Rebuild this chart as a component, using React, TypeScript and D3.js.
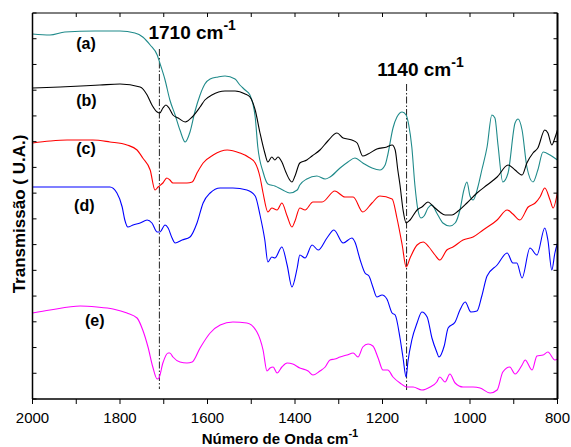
import React from "react";
import * as d3 from "d3";

// wavenumber (cm-1), transmission (a.u.)
const curveA: [number, number][] = [
  [2000, 365], [1960, 364], [1926, 367], [1857, 368], [1800, 368], [1766, 366], [1748, 362], [1731, 354],
  [1715, 344], [1709, 336], [1697, 319], [1686, 299], [1674, 284], [1663, 269], [1651, 257], [1640, 267],
  [1629, 287], [1617, 304], [1606, 315], [1594, 320], [1576, 322], [1560, 323], [1537, 320], [1526, 314],
  [1514, 309], [1503, 304], [1491, 282], [1485, 252], [1473, 227], [1462, 215], [1446, 213], [1428, 209],
  [1412, 206], [1395, 209], [1389, 214], [1373, 220], [1350, 223], [1331, 220], [1320, 222], [1297, 231],
  [1279, 237], [1263, 241], [1245, 236], [1224, 231], [1206, 229], [1194, 234], [1188, 244], [1176, 271],
  [1167, 282], [1155, 287], [1146, 284], [1140, 274], [1133, 252], [1126, 214], [1119, 189], [1112, 181],
  [1105, 183], [1096, 191], [1087, 194], [1076, 186], [1062, 176], [1046, 173], [1034, 176], [1023, 189],
  [1014, 209], [1007, 217], [1000, 203], [993, 199], [982, 212], [973, 229], [961, 252], [950, 284],
  [943, 281], [936, 254], [925, 217], [913, 226], [897, 276], [890, 280], [881, 269], [870, 232],
  [856, 217], [845, 229], [833, 247], [817, 244], [800, 239],
];

const curveB: [number, number][] = [
  [2000, 311], [1937, 312], [1846, 314], [1800, 315], [1754, 312], [1738, 304], [1727, 294], [1715, 287],
  [1709, 286], [1702, 291], [1695, 294], [1688, 291], [1679, 284], [1667, 281], [1651, 277], [1635, 282],
  [1617, 292], [1606, 299], [1590, 304], [1560, 308], [1537, 308], [1514, 305], [1503, 302], [1491, 289],
  [1480, 266], [1469, 246], [1462, 237], [1453, 242], [1446, 239], [1439, 242], [1430, 237], [1421, 227],
  [1412, 219], [1407, 217], [1400, 223], [1389, 236], [1373, 239], [1361, 243], [1343, 249], [1325, 258],
  [1304, 266], [1290, 261], [1270, 259], [1258, 256], [1245, 243], [1233, 245], [1213, 250], [1190, 252],
  [1178, 254], [1171, 249], [1165, 229], [1160, 214], [1153, 189], [1146, 176], [1137, 179], [1121, 189],
  [1110, 192], [1096, 197], [1085, 193], [1069, 187], [1057, 184], [1041, 184], [1027, 188], [1007, 196],
  [984, 206], [961, 214], [938, 222], [913, 234], [897, 229], [881, 224], [870, 236], [856, 246],
  [845, 251], [829, 269], [822, 266], [813, 254], [806, 261], [800, 269],
];

const curveC: [number, number][] = [
  [2000, 256], [1960, 258], [1921, 259], [1862, 259], [1823, 257], [1784, 254], [1761, 249], [1748, 241],
  [1731, 229], [1720, 209], [1713, 212], [1702, 216], [1693, 221], [1686, 219], [1679, 216], [1663, 216],
  [1647, 216], [1635, 217], [1624, 226], [1610, 236], [1587, 244], [1555, 249], [1526, 246], [1507, 242],
  [1491, 236], [1480, 222], [1473, 206], [1462, 187], [1453, 191], [1441, 189], [1430, 196], [1418, 183],
  [1407, 172], [1400, 178], [1389, 191], [1377, 189], [1359, 197], [1338, 197], [1309, 208], [1286, 202],
  [1267, 202], [1245, 187], [1224, 196], [1206, 203], [1178, 200], [1167, 181], [1155, 154], [1146, 132],
  [1137, 141], [1121, 154], [1107, 157], [1094, 152], [1080, 144], [1069, 139], [1053, 149], [1039, 152],
  [1016, 159], [993, 162], [970, 169], [938, 179], [915, 189], [902, 185], [886, 179], [867, 192],
  [851, 196], [840, 202], [829, 211], [817, 199], [810, 191], [800, 207],
];

const curveD: [number, number][] = [
  [2000, 212], [1921, 212], [1823, 212], [1807, 206], [1795, 192], [1789, 179], [1782, 172], [1770, 174],
  [1754, 176], [1738, 179], [1727, 176], [1715, 167], [1709, 167], [1697, 174], [1690, 171], [1681, 161],
  [1674, 156], [1658, 159], [1640, 162], [1624, 176], [1610, 196], [1594, 206], [1571, 211], [1542, 211],
  [1510, 209], [1491, 203], [1480, 184], [1469, 159], [1462, 137], [1453, 142], [1446, 141], [1430, 152],
  [1418, 134], [1407, 112], [1395, 131], [1389, 144], [1377, 141], [1361, 154], [1347, 149], [1327, 161],
  [1311, 169], [1290, 156], [1270, 161], [1263, 157], [1251, 139], [1240, 126], [1231, 123], [1222, 112],
  [1213, 102], [1201, 104], [1190, 100], [1178, 86], [1171, 84], [1160, 61], [1153, 41], [1146, 22],
  [1142, 37], [1133, 59], [1121, 76], [1110, 87], [1098, 82], [1087, 61], [1076, 47], [1071, 42],
  [1059, 53], [1050, 71], [1034, 77], [1023, 89], [1011, 97], [998, 87], [984, 88], [973, 103],
  [961, 123], [938, 134], [915, 146], [902, 136], [893, 136], [881, 121], [863, 151], [847, 144],
  [829, 171], [822, 159], [813, 129], [806, 146], [800, 156],
];

const curveE: [number, number][] = [
  [2000, 86], [1960, 89], [1891, 93], [1853, 92], [1816, 90], [1784, 86], [1761, 81], [1748, 69],
  [1736, 52], [1725, 32], [1715, 20], [1711, 21], [1702, 36], [1690, 46], [1686, 46], [1679, 42],
  [1663, 37], [1647, 36], [1635, 37], [1617, 51], [1594, 66], [1571, 74], [1542, 77], [1510, 76],
  [1487, 67], [1473, 49], [1464, 28], [1457, 31], [1450, 32], [1441, 26], [1430, 32], [1418, 36],
  [1405, 35], [1389, 31], [1370, 28], [1359, 24], [1343, 28], [1331, 32], [1320, 39], [1309, 40],
  [1297, 42], [1281, 44], [1267, 46], [1256, 42], [1245, 52], [1233, 55], [1222, 53], [1210, 41],
  [1199, 29], [1188, 29], [1176, 22], [1160, 16], [1144, 12], [1130, 12], [1110, 9], [1091, 12],
  [1076, 17], [1069, 22], [1057, 17], [1046, 25], [1034, 16], [1016, 12], [993, 12], [977, 11],
  [954, 6], [938, 9], [925, 27], [909, 32], [897, 25], [881, 34], [874, 39], [858, 29],
  [847, 43], [833, 44], [822, 47], [806, 39], [800, 40],
];

const seriesColors = ["#1f8a8a", "#000000", "#ff0000", "#0000ff", "#ff00ff"];
const seriesLabels = ["(a)", "(b)", "(c)", "(d)", "(e)"];
const labelPos: [number, number][] = [[1900, 350], [1900, 293], [1900, 245], [1905, 188], [1880, 73]];

const xTicksMajor = [2000, 1800, 1600, 1400, 1200, 1000, 800];
const xTicksAll = d3.range(2000, 799, -100);
const refLines: { w: number; top: number; bottom: number; text: string; textW: number; textV: number }[] = [
  { w: 1710, top: 350, bottom: 10, text: "1710 cm", textW: 1735, textV: 360 },
  { w: 1145, top: 315, bottom: 9, text: "1140 cm", textW: 1212, textV: 323 },
];

const W = 571;
const H = 447;
const left = 32.5;
const right = 557.5;
const top = 13;
const bottom = 399;

export default function App() {
  const x = d3.scaleLinear().domain([2000, 800]).range([left, right]);
  const y = d3.scaleLinear().domain([0, 386]).range([bottom, top]);
  const yTicks = d3.range(0, 16).map((i) => (i * 386) / 15);
  const line = d3
    .line<[number, number]>()
    .x((d) => x(d[0]))
    .y((d) => y(d[1]))
    .curve(d3.curveMonotoneX);
  const curves = [curveA, curveB, curveC, curveD, curveE];
  const font = "Arial, 'Liberation Sans', sans-serif";

  return (
    <svg
      width={W}
      height={H}
      style={{ position: "absolute", left: 0, top: 0, background: "#fff" }}
      fontFamily={font}
    >
      <rect x={0} y={0} width={W} height={H} fill="#fff" />
      {/* reference lines */}
      {refLines.map((r, i) => (
        <g key={i}>
          <line
            x1={x(r.w)}
            x2={x(r.w)}
            y1={y(r.top)}
            y2={y(r.bottom)}
            stroke="#222"
            strokeWidth={1}
            strokeDasharray="7,2,1.5,2"
          />
          <text x={x(r.textW)} y={y(r.textV)} fontSize={19} fontWeight="bold" fill="#000">
            {r.text}
            <tspan fontSize={14} dy={-9}>-1</tspan>
          </text>
        </g>
      ))}
      {/* curves */}
      {curves.map((c, i) => (
        <path key={i} d={line(c) || ""} fill="none" stroke={seriesColors[i]} strokeWidth={1.1} />
      ))}
      {/* curve labels */}
      {seriesLabels.map((l, i) => (
        <text
          key={l}
          x={x(labelPos[i][0])}
          y={y(labelPos[i][1])}
          fontSize={16}
          fontWeight="bold"
          fill="#000"
        >
          {l}
        </text>
      ))}
      {/* frame */}
      <line x1={left} x2={right} y1={top} y2={top} stroke="#000" strokeWidth={1} />
      <line x1={left} x2={right} y1={bottom} y2={bottom} stroke="#000" strokeWidth={1.5} />
      <line x1={left} x2={left} y1={top} y2={bottom} stroke="#000" strokeWidth={1.5} />
      <line x1={right} x2={right} y1={top} y2={bottom} stroke="#000" strokeWidth={2} />
      {/* x ticks */}
      {xTicksAll.map((t) => (
        <g key={t}>
          <line x1={x(t)} x2={x(t)} y1={bottom} y2={bottom + 5} stroke="#000" strokeWidth={1} />
          <line x1={x(t)} x2={x(t)} y1={top} y2={top + 4} stroke="#000" strokeWidth={1} />
        </g>
      ))}
      {xTicksMajor.map((t) => (
        <text key={t} x={x(t)} y={423} fontSize={15} textAnchor="middle" fill="#000">
          {t}
        </text>
      ))}
      {/* y ticks */}
      {yTicks.map((t, i) => (
        <g key={i}>
          <line x1={left} x2={left + 4} y1={y(t)} y2={y(t)} stroke="#000" strokeWidth={1} />
          <line x1={right - 4} x2={right} y1={y(t)} y2={y(t)} stroke="#000" strokeWidth={1} />
        </g>
      ))}
      {/* axis titles */}
      <text x={280} y={444} fontSize={15} fontWeight="bold" textAnchor="middle" fill="#000">
        Número de Onda cm<tspan fontSize={11} dy={-7}>-1</tspan>
      </text>
      <text
        transform={`translate(25, ${(top + bottom) / 2 + 8}) rotate(-90)`}
        fontSize={17}
        fontWeight="bold"
        textAnchor="middle"
        fill="#000"
      >
        Transmissão ( U.A.)
      </text>
    </svg>
  );
}
